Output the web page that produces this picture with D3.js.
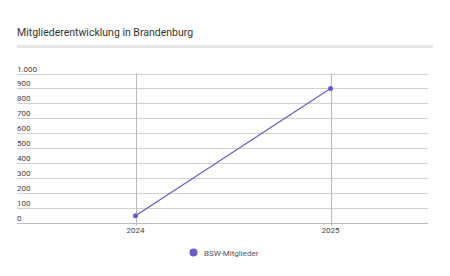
<!DOCTYPE html>
<html>
<head>
<meta charset="utf-8">
<script src="https://cdn.jsdelivr.net/npm/d3@7"></script>
<style>
  body { margin: 0; background: #fff; }
  svg { font-family: Roboto, sans-serif; }
</style>
</head>
<body>
<div id="chart"></div>
<script>
// Data
const years = ["2024", "2025"];
const members = [45, 900];
const yTicks = [0, 100, 200, 300, 400, 500, 600, 700, 800, 900, 1000];
const seriesName = "BSW-Mitglieder";
const title = "Mitgliederentwicklung in Brandenburg";

const width = 450, height = 276;
const svg = d3.select("#chart").append("svg")
    .attr("width", width)
    .attr("height", height);

// Title and separator bar
svg.append("text")
    .attr("x", 17)
    .attr("y", 36)
    .style("font-size", "10.5px")
    .attr("fill", "#333")
    .text(title);

svg.append("rect")
    .attr("x", 17)
    .attr("y", 45)
    .attr("width", 416)
    .attr("height", 3)
    .attr("fill", "#e6e6e6");

// Scales
const x = d3.scalePoint()
    .domain(years)
    .range([38, 428])
    .padding(0.5);

const y = d3.scaleLinear()
    .domain([0, 1000])
    .range([222.5, 73.5]);

const fmt = d3.formatLocale({decimal: ",", thousands: ".", grouping: [3], currency: ["", "€"]}).format(",d");

// Horizontal grid
svg.append("g")
    .selectAll("line")
    .data(yTicks)
    .enter()
    .append("line")
    .attr("x1", 17)
    .attr("x2", 428)
    .attr("y1", d => Math.round(y(d)) + 0.5)
    .attr("y2", d => Math.round(y(d)) + 0.5)
    .attr("stroke", d => d === 0 ? "#bbb" : "#d0d0d0")
    .attr("stroke-width", 1);

// Y labels
svg.append("g")
    .selectAll("text")
    .data(yTicks)
    .enter()
    .append("text")
    .attr("x", 17)
    .attr("y", d => Math.round(y(d)) - 2)
    .style("font-size", "8px")
    .attr("fill", "#444")
    .text(d => fmt(d));

// Vertical grid
svg.append("g")
    .selectAll("line")
    .data(years)
    .enter()
    .append("line")
    .attr("x1", d => Math.round(x(d)) + 0.5)
    .attr("x2", d => Math.round(x(d)) + 0.5)
    .attr("y1", y(1000))
    .attr("y2", y(0) + 3)
    .attr("stroke", "#bbb")
    .attr("stroke-width", 1);

// X labels
svg.append("g")
    .selectAll("text")
    .data(years)
    .enter()
    .append("text")
    .attr("x", d => x(d))
    .attr("y", 233)
    .attr("text-anchor", "middle")
    .style("font-size", "8px")
    .attr("fill", "#444")
    .text(d => d);

// Line
const color = "#6a5acd";
const pts = years.map((d, i) => [x(d), y(members[i])]);

svg.append("path")
    .attr("d", d3.line()(pts))
    .attr("fill", "none")
    .attr("stroke", color)
    .attr("stroke-width", 1.2);

svg.append("g")
    .selectAll("circle")
    .data(pts)
    .enter()
    .append("circle")
    .attr("cx", d => d[0])
    .attr("cy", d => d[1])
    .attr("r", 2.5)
    .attr("fill", color);

// Legend
svg.append("circle")
    .attr("cx", 193.5)
    .attr("cy", 252.5)
    .attr("r", 4)
    .attr("fill", color);

svg.append("text")
    .attr("x", 204)
    .attr("y", 255.5)
    .style("font-size", "8px")
    .attr("fill", "#555")
    .text(seriesName);
</script>
</body>
</html>
